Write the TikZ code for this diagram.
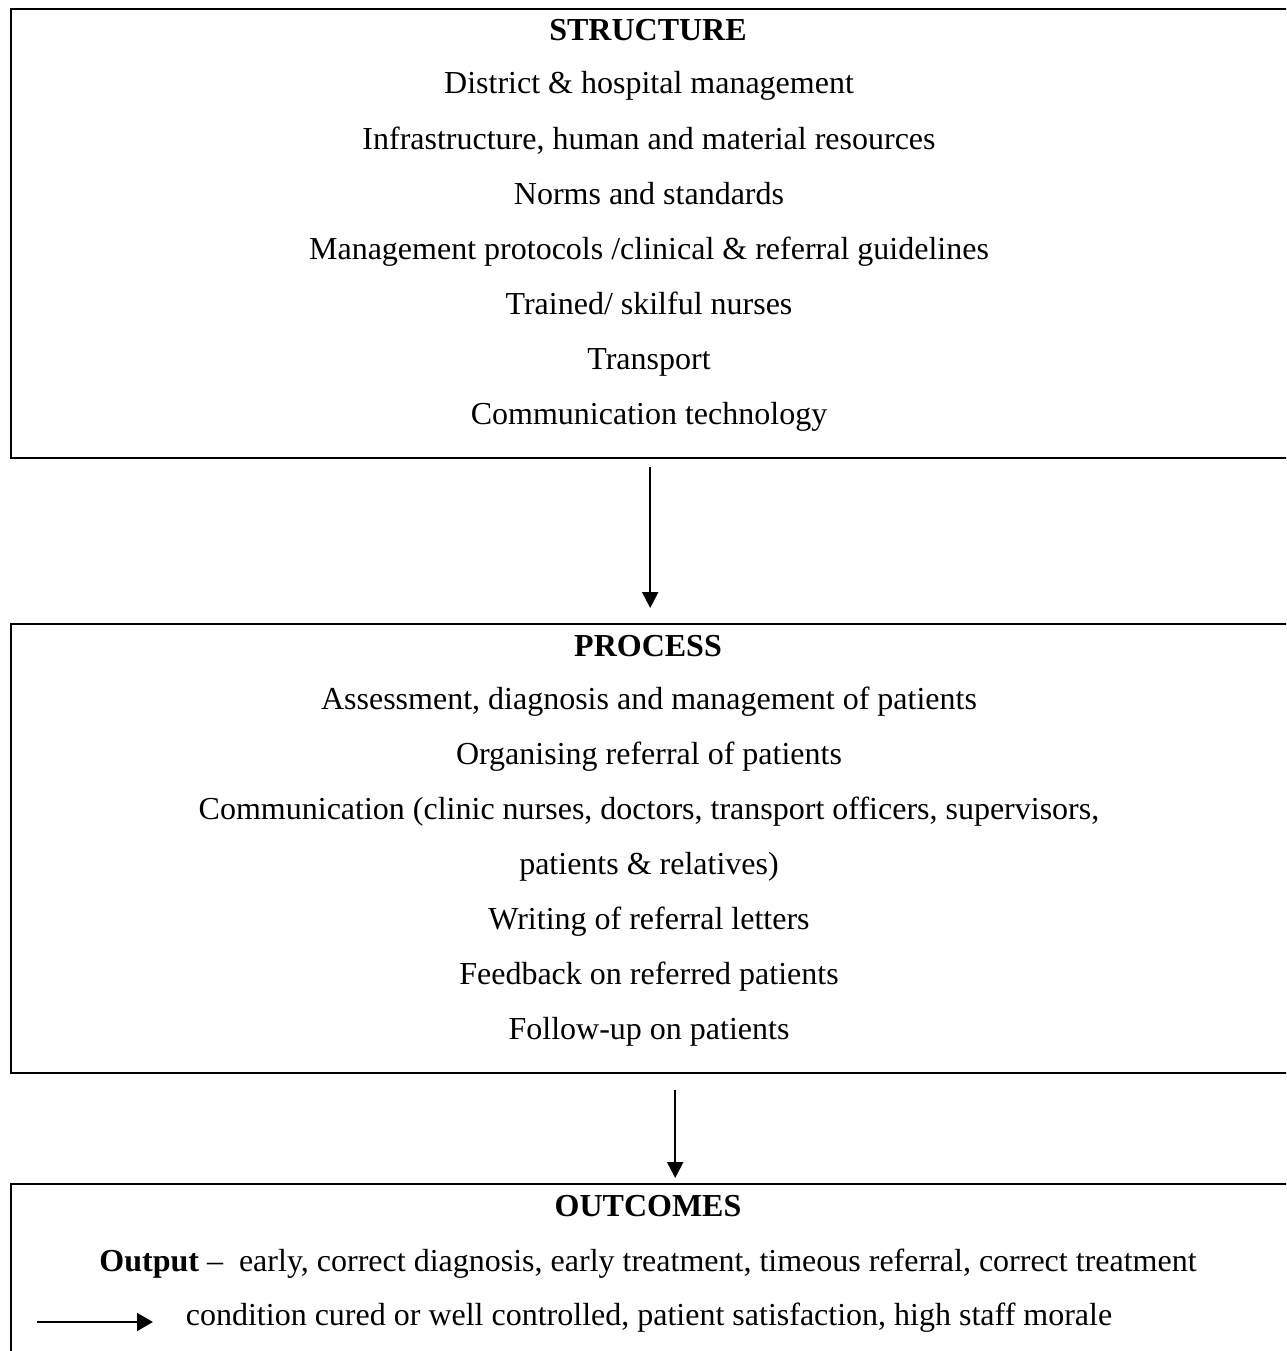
\documentclass[tikz,border=0pt]{standalone}
\usepackage{fontspec}
\setmainfont{Liberation Serif}
\usetikzlibrary{arrows.meta,calc}

\tikzset{
  panel/.style={draw=black, line width=0.9pt, anchor=north west, inner sep=0pt, minimum width=483.75pt},
  entry/.style={anchor=base, inner sep=0pt, font=\fontsize{12}{14.4}\selectfont},
  heading/.style={entry, font=\fontsize{12}{14.4}\selectfont\bfseries},
  flow/.style={line width=0.8pt, -{Triangle[length=6pt,width=6pt]}}
}

\begin{document}
\begin{tikzpicture}[x=0.375pt, y=-0.375pt]
	\useasboundingbox (0,0) rectangle (1286,1351);
	\clip (0,0) rectangle (1286,1351);
	% the three boxes (cut off at the right and at the bottom)
	\node[panel, minimum height=168.4pt] (structure) at (10,8) {};
	\node[panel, minimum height=168.4pt] (process) at (10,623) {};
	\node[panel, minimum height=66.4pt] (outcomes) at (10,1183) {};
	% structure
	\node[heading] (structhead) at (648,41) {STRUCTURE};
	\foreach \txt [count=\i] in {District \& hospital management,
		{Infrastructure, human and material resources},
		Norms and standards,
		Management protocols /clinical \& referral guidelines,
		Trained/ skilful nurses,
		Transport,
		Communication technology}
	\node[entry] (s\i) at (649,{94+55.1*(\i-1)}) {\txt};
	% process
	\node[heading] (prochead) at (648,656) {PROCESS};
	\foreach \txt [count=\i] in {{Assessment, diagnosis and management of patients},
		Organising referral of patients,
		{Communication (clinic nurses, doctors, transport officers, supervisors,},
		patients \& relatives),
		Writing of referral letters,
		Feedback on referred patients,
		Follow-up on patients}
	\node[entry] (p\i) at (649,{709+55*(\i-1)}) {\txt};
	% outcomes
	\node[heading] (outhead) at (648,1216) {OUTCOMES};
	\node[entry] (output) at (648,1271) {\textbf{Output} --\ \ early, correct diagnosis, early treatment, timeous referral, correct treatment};
	\node[entry] (result) at (649,1325) {condition cured or well controlled, patient satisfaction, high staff morale};
	% arrows
	\draw[flow] ($(structure.south)+(-6,8)$) -- ($(process.north)+(-6,-15)$);
	\draw[flow] ($(process.south)+(19,16)$) -- ($(outcomes.north)+(19,-5)$);
	\coordinate (tail) at (37,1322);
	\coordinate (tip) at (153,1322);
	\draw[flow, line width=1.1pt, -{Triangle[length=6pt,width=6.6pt]}] (tail) -- (tip);
\end{tikzpicture}
\end{document}
